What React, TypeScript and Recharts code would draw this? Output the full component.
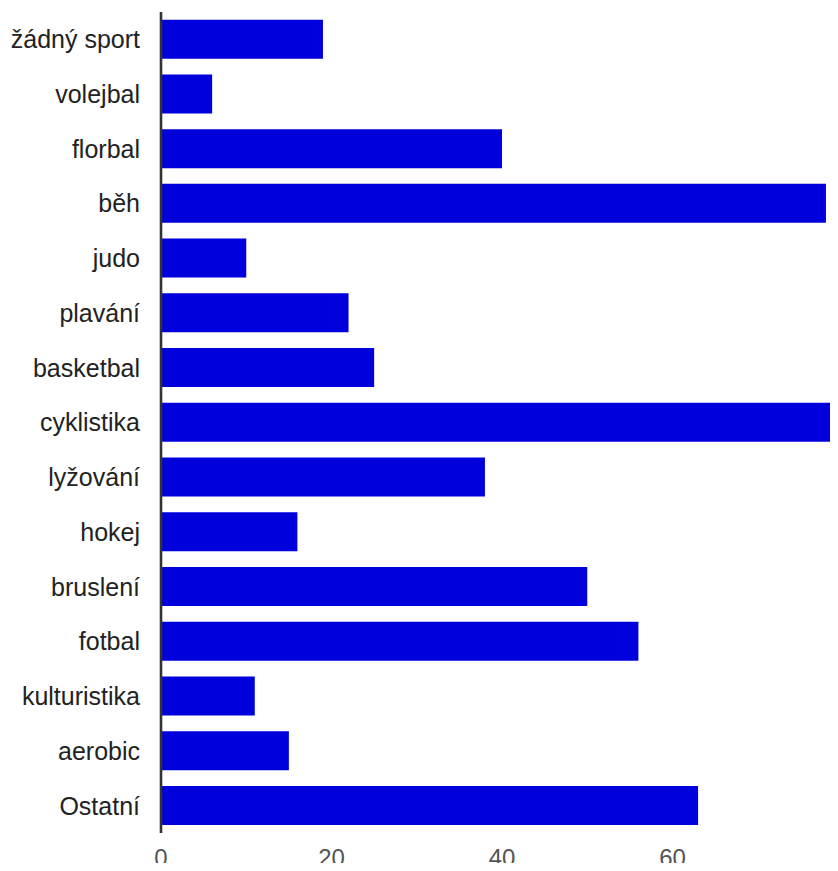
import React from "react";
import { BarChart, Bar, XAxis, YAxis } from "recharts";

const categories = [
  "žádný sport",
  "volejbal",
  "florbal",
  "běh",
  "judo",
  "plavání",
  "basketbal",
  "cyklistika",
  "lyžování",
  "hokej",
  "bruslení",
  "fotbal",
  "kulturistika",
  "aerobic",
  "Ostatní",
];

const values = [19, 6, 40, 78, 10, 22, 25, 80, 38, 16, 50, 56, 11, 15, 63];

const xTicks = [0, 20, 40, 60];

const data = categories.map((name, i) => ({ name, value: values[i] }));

const FONT = '"Liberation Sans", Arial, Helvetica, sans-serif';

export default function App() {
  return (
    <div style={{ width: 830, height: 863, overflow: "hidden", marginBottom: -8 }}>
      <BarChart
        layout="vertical"
        width={835}
        height={863}
        data={data}
        margin={{ top: 4, right: 0, bottom: 0, left: 0 }}
        barCategoryGap="14%"
      >
        <XAxis
          type="number"
          domain={[0, 80]}
          ticks={xTicks}
          axisLine={false}
          tickLine={false}
          tickSize={0}
          tickMargin={16}
          height={38}
          interval={0}
          tick={{ fill: "#555", fontSize: 24, fontFamily: FONT }}
        />
        <YAxis
          type="category"
          dataKey="name"
          width={153}
          axisLine={{ stroke: "#333", strokeWidth: 2.6 }}
          tickLine={false}
          tickSize={0}
          tickMargin={21}
          interval={0}
          tick={{ fill: "#222", fontSize: 25, fontFamily: FONT }}
        />
        <Bar dataKey="value" fill="#0000dd" isAnimationActive={false} />
      </BarChart>
    </div>
  );
}
